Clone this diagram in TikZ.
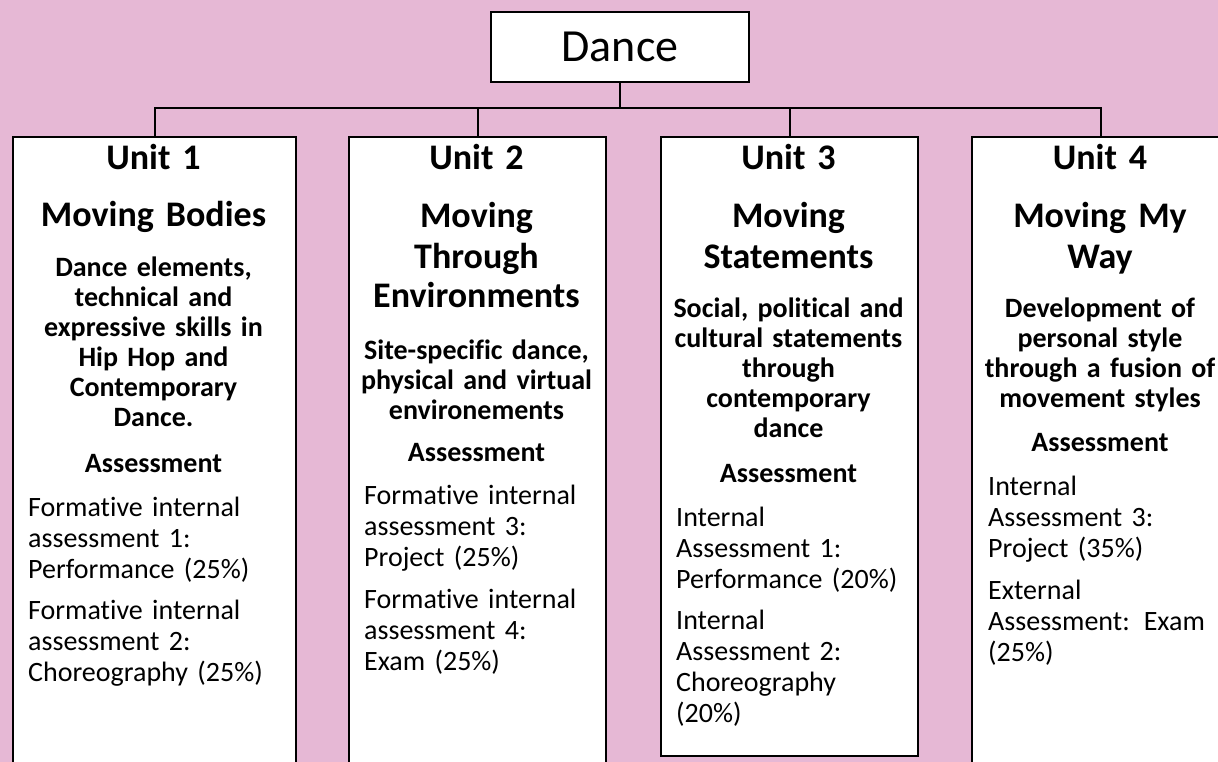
\documentclass[tikz,border=0pt]{standalone}
\usepackage{fontspec}
\setmainfont{Carlito}[Ligatures=NoCommon]
\definecolor{bgpink}{RGB}{230,184,213}
\tikzset{
  boxline/.style={draw=black, line width=2pt, fill=white},
  conn/.style={draw=black, line width=2pt},
  unittitle/.style={font=\bfseries\fontsize{36}{40}\selectfont, align=center, text width=300pt, inner sep=0pt, anchor=base},
  desc/.style={font=\bfseries\fontsize{28}{30}\selectfont, align=center, text width=300pt, inner sep=0pt, anchor=base},
  body/.style={font=\fontsize{28}{31}\selectfont, align=left, text width=280pt, inner sep=0pt, anchor=base west},
}
\begin{document}
\begin{tikzpicture}[x=1pt,y=-1pt]
\useasboundingbox (0,0) rectangle (1218,762);
\clip (0,0) rectangle (1218,762);
\fill[bgpink] (0,0) rectangle (1218,762);

% top box
\node[boxline, minimum width=258pt, minimum height=70pt, inner sep=0pt,
      font=\fontsize{46}{50}\selectfont] (dance) at (620,47) {Dance};

% unit boxes
\node[boxline, minimum width=283pt, minimum height=700pt, inner sep=0pt, anchor=north west] (u1) at (12,136) {};
\node[boxline, minimum width=257pt, minimum height=700pt, inner sep=0pt, anchor=north west] (u2) at (348,136) {};
\node[boxline, minimum width=257pt, minimum height=619pt, inner sep=0pt, anchor=north west] (u3) at (660,136) {};
\node[boxline, minimum width=258pt, minimum height=700pt, inner sep=0pt, anchor=north west] (u4) at (971,136) {};

% connectors
\coordinate (bar) at (620,108);
\draw[conn] (dance.south) -- (bar);
\draw[conn] (bar) -| (u1.north);
\draw[conn] (bar) -| (u2.north);
\draw[conn] (bar) -| (u3.north);
\draw[conn] (bar) -| (u4.north);

% ---- Unit 1
\node[unittitle] (t1a) at (153.5,170) {Unit 1};
\node[unittitle] (t1b) at (153.5,227) {Moving Bodies};
\node[desc] (d1) at (153.5,276) {Dance elements,\\technical and\\expressive skills in\\Hip Hop and\\Contemporary\\Dance.};
\node[desc] (a1) at (153.5,472) {Assessment};
\node[body] (p1a) at (28,516) {Formative internal\\assessment 1:\\Performance (25\%)};
\node[body] (p1b) at (28,619) {Formative internal\\assessment 2:\\Choreography (25\%)};

% ---- Unit 2
\node[unittitle] (t2a) at (476.5,170) {Unit 2};
\node[unittitle] (t2b) at (476.5,228) {Moving\\Through\\Environments};
\node[desc] (d2) at (476.5,359) {Site-specific dance,\\physical and virtual\\environements};
\node[desc] (a2) at (476.5,461) {Assessment};
\node[body] (p2a) at (364,504) {Formative internal\\assessment 3:\\Project (25\%)};
\node[body] (p2b) at (364,608) {Formative internal\\assessment 4:\\Exam (25\%)};

% ---- Unit 3
\node[unittitle] (t3a) at (788.5,170) {Unit 3};
\node[unittitle] (t3b) at (788.5,228) {Moving\\Statements};
\node[desc] (d3) at (788.5,317) {Social, political and\\cultural statements\\through\\contemporary\\dance};
\node[desc] (a3) at (788.5,482) {Assessment};
\node[body] (p3a) at (676,526) {Internal\\Assessment 1:\\Performance (20\%)};
\node[body] (p3b) at (676,629) {Internal\\Assessment 2:\\Choreography\\(20\%)};

% ---- Unit 4
\node[unittitle] (t4a) at (1100,170) {Unit 4};
\node[unittitle] (t4b) at (1100,228) {Moving My\\Way};
\node[desc] (d4) at (1100,317) {Development of\\personal style\\through a fusion of\\movement styles};
\node[desc] (a4) at (1100,451) {Assessment};
\node[body] (p4a) at (988,495) {Internal\\Assessment 3:\\Project (35\%)};
\node[body] (p4b) at (988,599) {External\\Assessment: Exam\\(25\%)};
\end{tikzpicture}
\end{document}
